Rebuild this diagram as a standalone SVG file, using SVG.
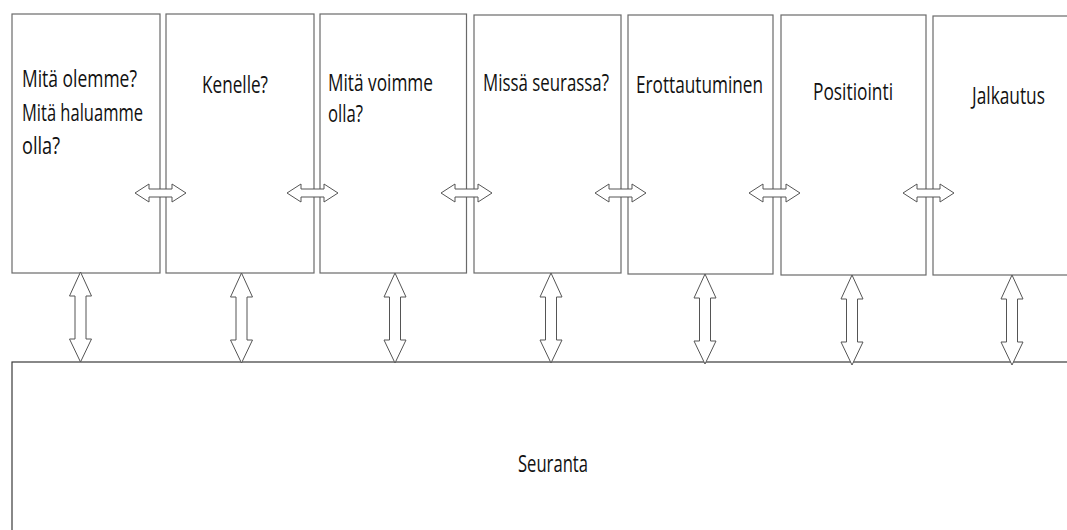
<svg xmlns="http://www.w3.org/2000/svg" width="1067" height="530" viewBox="0 0 1067 530">
<style>
.box{fill:#fff;stroke:#6a6a6a;stroke-width:1.2}
.base{fill:#fff;stroke:#3a3a3a;stroke-width:1.2}
.arr{fill:#fff;stroke:#555;stroke-width:1}
text{font-family:"Open Sans","Liberation Sans",sans-serif;font-size:23px;fill:#111}
</style>
<defs>
<polygon id="harr" points="0,9 14,0 14,5 37,5 37,0 51,9 37,18 37,13 14,13 14,18" class="arr"/>
<polygon id="varr" points="0,0 11,24 5.5,24 5.5,67 11,67 0,90 -11,67 -5.5,67 -5.5,24 -11,24" class="arr"/>
</defs>
<rect width="1067" height="530" fill="#fff"/>
<g id="seuranta">
<rect class="base" x="12" y="362" width="1070" height="180"/>
<text transform="translate(518,472) scale(0.75,1)" textLength="93.3" lengthAdjust="spacingAndGlyphs">Seuranta</text>
</g>
<g id="box1">
<rect class="box" x="12" y="14" width="148" height="259"/>
<text transform="translate(22,87) scale(0.75,1)" textLength="153.3" lengthAdjust="spacingAndGlyphs">Mitä olemme?</text>
<text transform="translate(22,121) scale(0.75,1)" textLength="161.3" lengthAdjust="spacingAndGlyphs">Mitä haluamme</text>
<text transform="translate(22,154) scale(0.75,1)" textLength="50.7" lengthAdjust="spacingAndGlyphs">olla?</text>
</g>
<g id="box2">
<rect class="box" x="166" y="14" width="148" height="259"/>
<text transform="translate(202,93) scale(0.75,1)" textLength="88" lengthAdjust="spacingAndGlyphs">Kenelle?</text>
</g>
<g id="box3">
<rect class="box" x="320" y="14" width="146.5" height="259"/>
<text transform="translate(328,91) scale(0.75,1)" textLength="140" lengthAdjust="spacingAndGlyphs">Mitä voimme</text>
<text transform="translate(328,122) scale(0.75,1)" textLength="46.7" lengthAdjust="spacingAndGlyphs">olla?</text>
</g>
<g id="box4">
<rect class="box" x="474" y="15" width="147" height="258"/>
<text transform="translate(483,91) scale(0.75,1)" textLength="168" lengthAdjust="spacingAndGlyphs">Missä seurassa?</text>
</g>
<g id="box5">
<rect class="box" x="628" y="15" width="145" height="259"/>
<text transform="translate(636,93) scale(0.75,1)" textLength="169.3" lengthAdjust="spacingAndGlyphs">Erottautuminen</text>
</g>
<g id="box6">
<rect class="box" x="781" y="15" width="145" height="260"/>
<text transform="translate(813,100) scale(0.75,1)" textLength="106.7" lengthAdjust="spacingAndGlyphs">Positiointi</text>
</g>
<g id="box7">
<rect class="box" x="933" y="16" width="150" height="259"/>
<text transform="translate(972,104) scale(0.75,1)" textLength="97.3" lengthAdjust="spacingAndGlyphs">Jalkautus</text>
</g>
<g id="connectors">
<use href="#harr" x="135" y="184"/>
<use href="#harr" x="287" y="184"/>
<use href="#harr" x="441" y="184"/>
<use href="#harr" x="595" y="184"/>
<use href="#harr" x="749" y="184"/>
<use href="#harr" x="903" y="184"/>
<use href="#varr" x="80.5" y="272"/>
<use href="#varr" x="241.5" y="273"/>
<use href="#varr" x="395" y="273"/>
<use href="#varr" x="551" y="273"/>
<use href="#varr" x="705" y="274"/>
<use href="#varr" x="852" y="275"/>
<use href="#varr" x="1012" y="275"/>
</g>
</svg>
